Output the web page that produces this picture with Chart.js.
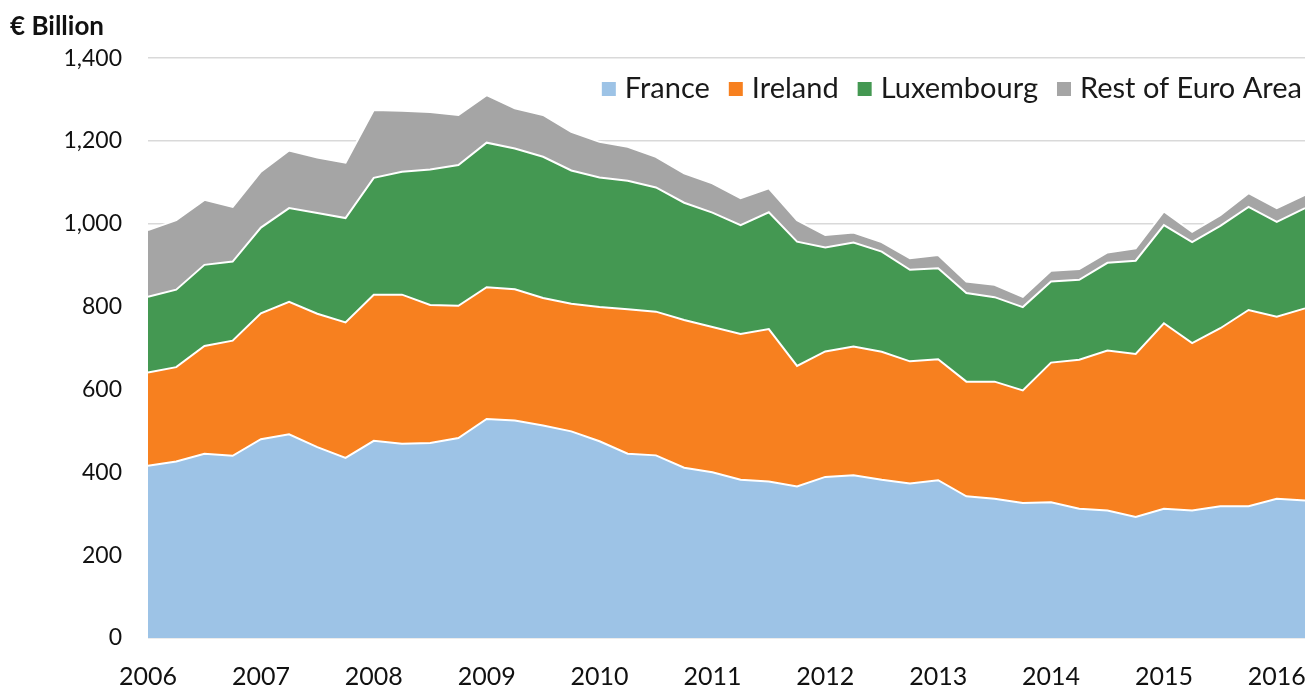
<!DOCTYPE html>
<html>
<head>
<meta charset="utf-8">
<script src="https://cdn.jsdelivr.net/npm/chart.js@4/dist/chart.umd.min.js"></script>
<style>
  html, body { margin: 0; padding: 0; background: #fff; }
  #wrap { width: 1311px; height: 689px; }
</style>
</head>
<body>
<div id="wrap"><canvas id="chart" width="1311" height="689"></canvas></div>
<script>
// Quarterly categories, 2006 Q1 .. 2016 Q2
const quarters = [];
for (let y = 2006; y <= 2016; y++) {
  for (let q = 1; q <= 4; q++) {
    if (y === 2016 && q > 2) break;
    quarters.push(y + ' Q' + q);
  }
}

// € billion
const france = [416, 426, 445, 440, 480, 492, 461, 435, 476, 469, 471, 483, 529, 525, 513, 499,
  475, 445, 441, 411, 400, 382, 378, 366, 389, 393, 382, 373, 381, 342, 336, 326,
  328, 312, 308, 292, 312, 308, 318, 318, 336, 332];
const ireland = [225, 228, 260, 278, 304, 320, 322, 327, 353, 360, 333, 319, 318, 317, 308, 308,
  324, 349, 347, 357, 351, 352, 368, 291, 303, 311, 309, 295, 292, 277, 283, 272,
  337, 360, 386, 394, 448, 404, 430, 474, 440, 464];
const luxembourg = [183, 187, 196, 191, 207, 226, 243, 252, 282, 297, 327, 340, 349, 340, 341, 322,
  313, 310, 300, 283, 276, 263, 282, 300, 251, 251, 242, 221, 220, 214, 204, 201,
  196, 193, 212, 225, 237, 244, 247, 249, 229, 242];
const restOfEuroArea = [161, 168, 157, 132, 135, 139, 134, 134, 164, 147, 139, 121, 115, 97, 101, 93,
  86, 82, 74, 71, 71, 65, 58, 52, 30, 24, 23, 28, 32, 28, 30, 25,
  26, 26, 25, 30, 33, 25, 26, 33, 33, 32];

const yTicks = [0, 200, 400, 600, 800, 1000, 1200, 1400];

const FONT = 'Lato, "Open Sans", sans-serif';

function area(label, data, color, fill) {
  return {
    label, data, fill,
    backgroundColor: color,
    borderColor: '#ffffff',
    borderWidth: 2,
    pointRadius: 0,
    tension: 0
  };
}

// legend drawn inside the plot, top right (built-in chartArea legend didn't show)
const insideLegend = {
  id: 'insideLegend',
  afterDraw(chart) {
    const c = chart.ctx;
    const box = 14, gap = 9, spacing = 19, y = 89;
    c.save();
    c.font = '29px ' + FONT;
    c.textBaseline = 'middle';
    const items = chart.data.datasets.map(d => ({ text: d.label, color: d.backgroundColor }));
    let total = 0;
    items.forEach((it, i) => {
      it.w = c.measureText(it.text).width;
      total += box + gap + it.w + (i ? spacing : 0);
    });
    let x = chart.chartArea.right - 3 - total;
    items.forEach(it => {
      c.fillStyle = it.color;
      c.fillRect(x, y - box / 2, box, box);
      c.fillStyle = '#1a1a1a';
      c.fillText(it.text, x + box + gap, y);
      x += box + gap + it.w + spacing;
    });
    c.restore();
  }
};

const ctx = document.getElementById('chart').getContext('2d');
new Chart(ctx, {
  type: 'line',
  data: {
    labels: quarters,
    datasets: [
      area('France', france, '#9dc3e6', 'origin'),
      area('Ireland', ireland, '#f7801f', '-1'),
      area('Luxembourg', luxembourg, '#449852', '-1'),
      area('Rest of Euro Area', restOfEuroArea, '#a5a5a5', '-1')
    ]
  },
  options: {
    responsive: false,
    animation: false,
    layout: { padding: { left: 10, right: 6, top: 6, bottom: 0 } },
    plugins: {
      tooltip: { enabled: false },
      legend: { display: false },
      title: {
        display: true,
        text: '€ Billion',
        align: 'start',
        color: '#111',
        font: { family: FONT, size: 26, weight: 'bold' },
        padding: { top: 5, bottom: 16 }
      }
    },
    scales: {
      x: {
        grid: { display: false },
        border: { display: false },
        afterFit: (s) => { s.height = 51; s.paddingLeft = 0; s.paddingRight = 0; },
        ticks: {
          autoSkip: false,
          maxRotation: 0,
          minRotation: 0,
          padding: 16,
          color: '#111',
          font: { family: FONT, size: 25 },
          callback: function (v) {
            const l = this.getLabelForValue(v);
            return l.endsWith('Q1') ? l.slice(0, 4) : '';
          }
        }
      },
      y: {
        stacked: true,
        min: yTicks[0],
        max: yTicks[yTicks.length - 1],
        afterFit: (s) => { s.width = 138; },
        afterBuildTicks: (s) => { s.ticks = yTicks.map(v => ({ value: v })); },
        grid: { color: '#d9d9d9', lineWidth: 1.5, drawTicks: false },
        border: { display: false },
        ticks: {
          padding: 26,
          color: '#111',
          font: { family: FONT, size: 23 },
          callback: (v) => v.toLocaleString('en-US')
        }
      }
    }
  },
  plugins: [insideLegend]
});
</script>
</body>
</html>
